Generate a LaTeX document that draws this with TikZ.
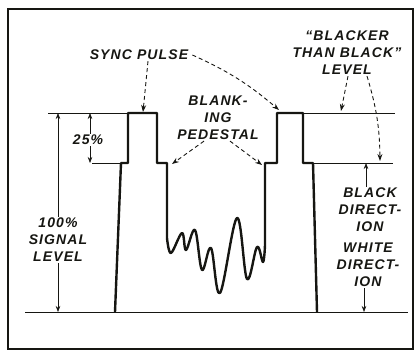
\documentclass[tikz,border=0pt]{standalone}
\usepackage{fontspec}
\setmainfont{Liberation Sans}
\usepackage{tikz}
\usetikzlibrary{arrows.meta, positioning, calc}
\definecolor{inkblack}{RGB}{22,22,18}
\newfontfamily\letterfont[LetterSpace=8]{Liberation Sans}

\begin{document}
\begin{tikzpicture}[
    x=1pt, y=-1pt,
    wave/.style={line width=2.4pt, inkblack, line join=round},
    refline/.style={line width=0.8pt, inkblack},
    dimarrow/.style={line width=0.6pt, inkblack, -{Stealth[length=6pt,width=4.5pt]}},
    callout/.style={line width=0.9pt, inkblack, dash pattern=on 4pt off 3pt,
                    -{Stealth[length=7pt,width=5pt]}},
    lbl/.style={font=\letterfont\bfseries\itshape\fontsize{14}{17}\selectfont,
                text=inkblack, align=center, inner sep=1pt}
]
\useasboundingbox (0,0) rectangle (420,351);
\draw[line width=2.6pt, inkblack] (8,9) rectangle (413,349);

% livelli di riferimento
\draw[refline] (48,113) -- (128,113);
\draw[refline] (92,163) -- (121,163);
\draw[refline] (303,113) -- (395,113);
\draw[refline] (313,163) -- (393,163);
\draw[refline] (25,312) -- (408,312);

% segnale
\draw[wave] (115,312) -- (121,163) -- (128,163) -- (128,113) -- (157,113)
    -- (157,163) -- (167,163) -- (167,238)
    -- plot[smooth, tension=0.6] coordinates {(167,238) (171,253) (182,233)
       (186,250) (195,230) (202,270) (211,248) (220,293) (237,218) (247,279)
       (257,247) (263,262) (265,245)}
    -- (265,163) -- (277,163) -- (277,113) -- (303,113) -- (303,163)
    -- (313,163) -- (317,312);

% etichette
\node[lbl] (sync) at (139,55) {SYNC PULSE};
\node[lbl] (blank) at (218,118) {BLANK-\\ING\\PEDESTAL};
\node[lbl] (btb) at (347,53) {“BLACKER\\THAN BLACK”\\LEVEL};
\node[lbl] (pct25) at (88,140) {25\%};
\node[lbl] (pct100) at (58,240) {100\%\\SIGNAL\\LEVEL};
\node[lbl] (blackdir) at (370,210) {BLACK\\DIRECT-\\ION};
\node[lbl] (whitedir) at (368,265) {WHITE\\DIRECT-\\ION};

% punti indicati
\coordinate (top100) at (58,113);
\coordinate (bot100) at (58,312);
\coordinate (top25) at (90,113);
\coordinate (bot25) at (90,163);
\coordinate (blklvl) at (366,163);
\coordinate (whtlvl) at (364,312);
\coordinate (sync1) at (143,112);
\coordinate (sync2) at (279,110);
\coordinate (ped1) at (172,164);
\coordinate (ped2) at (262,165);
\coordinate (btb1) at (341,111);
\coordinate (btb2) at (380,161);

% frecce di quota
\draw[dimarrow] (top100 |- pct100.north) -- (top100);
\draw[dimarrow] (bot100 |- pct100.south) -- (bot100);
\draw[dimarrow] (top25 |- pct25.north) -- (top25);
\draw[dimarrow] (bot25 |- pct25.south) -- (bot25);
\draw[dimarrow] (blklvl |- blackdir.north) -- (blklvl);
\draw[dimarrow] (whtlvl |- whitedir.south) -- (whtlvl);

% richiami tratteggiati
\draw[callout] ([xshift=9pt]sync.south) -- (sync1);
\draw[callout] ([xshift=3pt]sync.east) to[bend left=8] (sync2);
\draw[callout] ([xshift=-14pt]blank.south) -- (ped1);
\draw[callout] ([xshift=12pt]blank.south) -- (ped2);
\draw[callout] ([xshift=1pt]btb.south) -- (btb1);
\draw[callout] ([xshift=20pt]btb.south) to[bend left=8] (btb2);
\end{tikzpicture}
\end{document}
